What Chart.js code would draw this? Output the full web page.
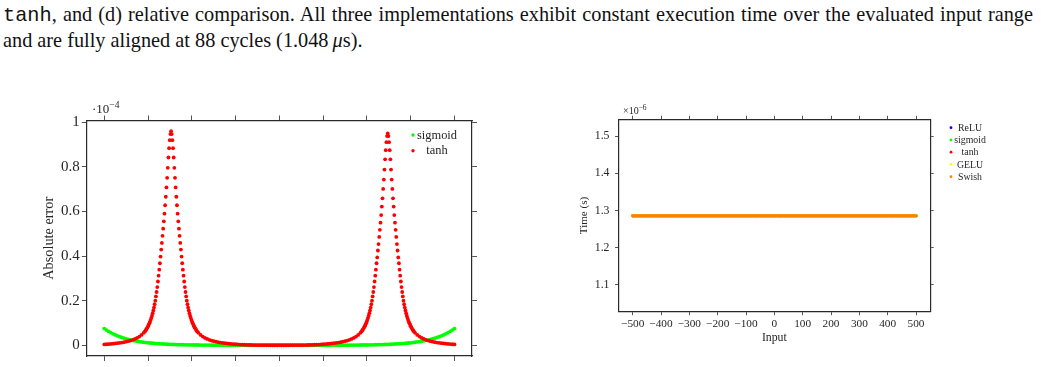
<!DOCTYPE html>
<html>
<head>
<meta charset="utf-8">
<script src="https://cdn.jsdelivr.net/npm/chart.js@4.4.1/dist/chart.umd.min.js"></script>
<style>
  html, body { margin:0; padding:0; background:#fff; }
  body { width:1041px; height:367px; overflow:hidden; position:relative; }
  #cap { position:absolute; left:3px; top:1.8px; width:1030px; font-family:"Liberation Serif","Times New Roman",serif; font-size:20.3px; line-height:24.5px; color:#111; }
  #cap .l1 { text-align:justify; text-align-last:justify; }
  #cap .l2 { text-align:left; }
  .mono { font-family:"Liberation Mono",monospace; }
  canvas { position:absolute; }
  .sci { position:absolute; font-family:"Liberation Serif",serif; color:#262626; white-space:nowrap; }
</style>
</head>
<body>
<div id="cap">
  <div class="l1"><span class="mono">tanh</span>, and (d) relative comparison. All three implementations exhibit constant execution time over the evaluated input range</div>
  <div class="l2">and are fully aligned at 88 cycles (1.048&#8201;<i>μ</i>s).</div>
</div>
<canvas id="errChart" width="520" height="267" style="left:0px;top:100px;width:520px;height:267px"></canvas>
<canvas id="timeChart" width="501" height="267" style="left:540px;top:100px;width:501px;height:267px"></canvas>
<div class="sci" style="left:92px;top:100px;font-size:13px;">·10<sup style="font-size:9.5px">−4</sup></div>
<div class="sci" style="left:623px;top:103px;font-size:10px;">×10<sup style="font-size:7.5px">−6</sup></div>
<script>
// ---------------- Left chart data (absolute error, in units of 1e-4) ----------------
const sigmoidX = [
-8,-7.9,-7.8,-7.7,-7.6,-7.5,-7.4,-7.3,-7.2,-7.1,
-7,-6.9,-6.8,-6.7,-6.6,-6.5,-6.4,-6.3,-6.2,-6.1,
-6,-5.9,-5.8,-5.7,-5.6,-5.5,-5.4,-5.3,-5.2,-5.1,
-5,-4.9,-4.8,-4.7,-4.6,-4.5,-4.4,-4.3,-4.2,-4.1,
-4,-3.9,-3.8,-3.7,-3.6,-3.5,-3.4,-3.3,-3.2,-3.1,
-3,-2.9,-2.8,-2.7,-2.6,-2.5,-2.4,-2.3,-2.2,-2.1,
-2,-1.9,-1.8,-1.7,-1.6,-1.5,-1.4,-1.3,-1.2,-1.1,
-1,-0.9,-0.8,-0.7,-0.6,-0.5,-0.4,-0.3,-0.2,-0.1,
0,
0.1,0.2,0.3,0.4,0.5,0.6,0.7,0.8,0.9,1,
1.1,1.2,1.3,1.4,1.5,1.6,1.7,1.8,1.9,2,
2.1,2.2,2.3,2.4,2.5,2.6,2.7,2.8,2.9,3,
3.1,3.2,3.3,3.4,3.5,3.6,3.7,3.8,3.9,4,
4.1,4.2,4.3,4.4,4.5,4.6,4.7,4.8,4.9,5,
5.1,5.2,5.3,5.4,5.5,5.6,5.7,5.8,5.9,6,
6.1,6.2,6.3,6.4,6.5,6.6,6.7,6.8,6.9,7,
7.1,7.2,7.3,7.4,7.5,7.6,7.7,7.8,7.9,8
];
const sigmoidErr = [
.0750,.0682,.0620,.0564,.0513,.0467,.0424,.0386,.0351,.0319,
.0290,.0264,.0240,.0218,.0199,.0181,.0164,.0149,.0136,.0124,
.0112,.0102,.0093,.0085,.0077,.0070,.0064,.0058,.0053,.0048,
.0043,.0039,.0036,.0033,.0030,.0027,.0024,.0022,.0020,.0018,
.0017,.0015,.0014,.0013,.0011,.0010,.0009,.0008,.0008,.0007,
.0006,.0006,.0005,.0005,.0004,.0004,.0004,.0003,.0003,.0003,
.0002,.0002,.0002,.0002,.0002,.0002,.0002,.0002,.0002,.0002,
.0001,.0001,.0001,.0001,.0001,.0001,.0001,.0001,.0001,.0001,
.0001,
.0001,.0001,.0001,.0001,.0001,.0001,.0001,.0001,.0001,.0001,
.0002,.0002,.0002,.0002,.0002,.0002,.0002,.0002,.0002,.0002,
.0003,.0003,.0003,.0004,.0004,.0004,.0005,.0005,.0006,.0006,
.0007,.0008,.0008,.0009,.0010,.0011,.0013,.0014,.0015,.0017,
.0018,.0020,.0022,.0024,.0027,.0030,.0033,.0036,.0039,.0043,
.0048,.0053,.0058,.0064,.0070,.0077,.0085,.0093,.0102,.0112,
.0124,.0136,.0149,.0164,.0181,.0199,.0218,.0240,.0264,.0290,
.0319,.0351,.0386,.0424,.0467,.0513,.0564,.0620,.0682,.0750
];
const tanhX = [
-8,-7.9,-7.8,-7.7,-7.6,-7.5,-7.4,-7.3,-7.2,-7.1,-7,-6.9,-6.8,-6.7,-6.6,-6.5,-6.4,-6.3,-6.2,
-6.15,-6.12,-6.09,-6.06,-6.03,-6.00,-5.97,-5.94,-5.91,-5.88,-5.85,-5.82,-5.79,-5.76,-5.73,-5.70,
-5.67,-5.64,-5.61,-5.58,-5.55,-5.52,-5.49,-5.46,-5.43,-5.40,-5.37,-5.34,-5.31,-5.28,-5.25,-5.22,
-5.19,-5.16,-5.13,-5.10,-5.07,-5.04,-5.01,-4.98,-4.95,
-4.92,-4.89,-4.86,-4.83,-4.80,-4.77,-4.74,-4.71,-4.68,-4.65,-4.62,-4.59,-4.56,-4.53,-4.50,-4.47,
-4.44,-4.41,-4.38,-4.35,-4.32,-4.29,-4.26,-4.23,-4.20,-4.17,-4.14,-4.11,-4.08,-4.05,-4.02,-3.99,
-3.96,-3.93,-3.90,-3.87,-3.84,-3.81,-3.78,-3.75,
-3.7,-3.6,-3.5,-3.4,-3.3,-3.2,-3.1,-3,-2.9,-2.8,-2.7,-2.6,-2.5,-2.4,-2.3,-2.2,-2.1,-2,-1.9,
-1.8,-1.7,-1.6,-1.5,-1.4,-1.3,-1.2,-1.1,-1,-0.9,-0.8,-0.7,-0.6,-0.5,-0.4,-0.3,-0.2,-0.1,
0,
0.1,0.2,0.3,0.4,0.5,0.6,0.7,0.8,0.9,1,1.1,1.2,1.3,1.4,1.5,1.6,1.7,1.8,
1.9,2,2.1,2.2,2.3,2.4,2.5,2.6,2.7,2.8,2.9,3,3.1,3.2,3.3,3.4,3.5,3.6,3.7,
3.75,3.78,3.81,3.84,3.87,3.90,3.93,3.96,3.99,4.02,4.05,4.08,4.11,4.14,4.17,4.20,
4.23,4.26,4.29,4.32,4.35,4.38,4.41,4.44,4.47,4.50,4.53,4.56,4.59,4.62,4.65,4.68,
4.71,4.74,4.77,4.80,4.83,4.86,4.89,4.92,4.95,
4.98,5.01,5.04,5.07,5.10,5.13,5.16,5.19,5.22,5.25,5.28,5.31,5.34,5.37,5.40,5.43,
5.46,5.49,5.52,5.55,5.58,5.61,5.64,5.67,5.70,5.73,5.76,5.79,5.82,5.85,5.88,5.91,
5.94,5.97,6.00,6.03,6.06,6.09,6.12,6.15,
6.2,6.3,6.4,6.5,6.6,6.7,6.8,6.9,7,7.1,7.2,7.3,7.4,7.5,7.6,7.7,7.8,7.9,8
];
const tanhErr = [
.0039,.0046,.0054,.0063,.0073,.0084,.0096,.0109,.0124,.0141,.0161,.0185,.0213,.0244,.0285,.0331,.0392,.0464,.0561,
.0615,.0657,.0702,.0750,.0803,.0859,.0921,.0989,.106,.114,.123,.133,.144,.156,.169,.184,
.200,.219,.239,.261,.286,.312,.339,.368,.398,.429,.459,.491,.523,.556,.590,.628,
.666,.708,.751,.796,.842,.884,.920,.947,.960,
.947,.920,.884,.842,.796,.751,.708,.666,.628,.590,.556,.523,.491,.459,.429,.398,
.368,.339,.312,.286,.261,.239,.219,.200,.184,.169,.156,.144,.133,.123,.114,.106,
.0989,.0921,.0859,.0803,.0750,.0702,.0657,.0615,
.0561,.0464,.0392,.0331,.0285,.0244,.0213,.0185,.0161,.0141,.0124,.0109,.0096,.0084,.0073,.0063,.0054,.0046,.0039,
.0033,.0028,.0024,.0020,.0017,.0014,.0012,.0010,.0008,.0007,.0006,.0005,.0004,.0004,.0003,.0003,.0003,.0002,
.0004,
.0002,.0003,.0003,.0003,.0004,.0004,.0005,.0006,.0007,.0008,.0010,.0012,.0014,.0017,.0020,.0024,.0028,.0033,
.0039,.0046,.0054,.0063,.0073,.0084,.0096,.0109,.0124,.0141,.0161,.0185,.0213,.0244,.0285,.0331,.0392,.0464,.0561,
.0615,.0657,.0702,.0750,.0803,.0859,.0921,.0989,.106,.114,.123,.133,.144,.156,.169,.184,
.200,.219,.239,.261,.286,.312,.339,.368,.394,.425,.454,.486,.518,.550,.584,.622,
.659,.701,.743,.788,.834,.875,.911,.938,.950,
.938,.911,.875,.834,.788,.743,.701,.659,.622,.584,.550,.518,.486,.454,.425,.394,
.368,.339,.312,.286,.261,.239,.219,.200,.184,.169,.156,.144,.133,.123,.114,.106,
.0989,.0921,.0859,.0803,.0750,.0702,.0657,.0615,
.0561,.0464,.0392,.0331,.0285,.0244,.0213,.0185,.0161,.0141,.0124,.0109,.0096,.0084,.0073,.0063,.0054,.0046,.0039
];
const errXTicks = [-8,-6,-4,-2,0,2,4,6,8];
const errYTicks = [0,0.2,0.4,0.6,0.8,1];
const errYTickLabels = ['0','0.2','0.4','0.6','0.8','1'];

// ---------------- Right chart data (time, in units of 1e-6 s) ----------------
const inputX = [
-500,-495,-490,-485,-480,-475,-470,-465,-460,-455,-450,-445,-440,-435,-430,-425,-420,-415,-410,-405,
-400,-395,-390,-385,-380,-375,-370,-365,-360,-355,-350,-345,-340,-335,-330,-325,-320,-315,-310,-305,
-300,-295,-290,-285,-280,-275,-270,-265,-260,-255,-250,-245,-240,-235,-230,-225,-220,-215,-210,-205,
-200,-195,-190,-185,-180,-175,-170,-165,-160,-155,-150,-145,-140,-135,-130,-125,-120,-115,-110,-105,
-100,-95,-90,-85,-80,-75,-70,-65,-60,-55,-50,-45,-40,-35,-30,-25,-20,-15,-10,-5,
0,
5,10,15,20,25,30,35,40,45,50,55,60,65,70,75,80,85,90,95,100,
105,110,115,120,125,130,135,140,145,150,155,160,165,170,175,180,185,190,195,200,
205,210,215,220,225,230,235,240,245,250,255,260,265,270,275,280,285,290,295,300,
305,310,315,320,325,330,335,340,345,350,355,360,365,370,375,380,385,390,395,400,
405,410,415,420,425,430,435,440,445,450,455,460,465,470,475,480,485,490,495,500
];
const reluTime = [
1.286,1.286,1.286,1.286,1.286,1.286,1.286,1.286,1.286,1.286,1.286,1.286,1.286,1.286,1.286,1.286,1.286,1.286,1.286,1.286,
1.286,1.286,1.286,1.286,1.286,1.286,1.286,1.286,1.286,1.286,1.286,1.286,1.286,1.286,1.286,1.286,1.286,1.286,1.286,1.286,
1.286,1.286,1.286,1.286,1.286,1.286,1.286,1.286,1.286,1.286,1.286,1.286,1.286,1.286,1.286,1.286,1.286,1.286,1.286,1.286,
1.286,1.286,1.286,1.286,1.286,1.286,1.286,1.286,1.286,1.286,1.286,1.286,1.286,1.286,1.286,1.286,1.286,1.286,1.286,1.286,
1.286,1.286,1.286,1.286,1.286,1.286,1.286,1.286,1.286,1.286,1.286,1.286,1.286,1.286,1.286,1.286,1.286,1.286,1.286,1.286,
1.286,
1.286,1.286,1.286,1.286,1.286,1.286,1.286,1.286,1.286,1.286,1.286,1.286,1.286,1.286,1.286,1.286,1.286,1.286,1.286,1.286,
1.286,1.286,1.286,1.286,1.286,1.286,1.286,1.286,1.286,1.286,1.286,1.286,1.286,1.286,1.286,1.286,1.286,1.286,1.286,1.286,
1.286,1.286,1.286,1.286,1.286,1.286,1.286,1.286,1.286,1.286,1.286,1.286,1.286,1.286,1.286,1.286,1.286,1.286,1.286,1.286,
1.286,1.286,1.286,1.286,1.286,1.286,1.286,1.286,1.286,1.286,1.286,1.286,1.286,1.286,1.286,1.286,1.286,1.286,1.286,1.286,
1.286,1.286,1.286,1.286,1.286,1.286,1.286,1.286,1.286,1.286,1.286,1.286,1.286,1.286,1.286,1.286,1.286,1.286,1.286,1.286
];
const sigmoidTime = [
1.286,1.286,1.286,1.286,1.286,1.286,1.286,1.286,1.286,1.286,1.286,1.286,1.286,1.286,1.286,1.286,1.286,1.286,1.286,1.286,
1.286,1.286,1.286,1.286,1.286,1.286,1.286,1.286,1.286,1.286,1.286,1.286,1.286,1.286,1.286,1.286,1.286,1.286,1.286,1.286,
1.286,1.286,1.286,1.286,1.286,1.286,1.286,1.286,1.286,1.286,1.286,1.286,1.286,1.286,1.286,1.286,1.286,1.286,1.286,1.286,
1.286,1.286,1.286,1.286,1.286,1.286,1.286,1.286,1.286,1.286,1.286,1.286,1.286,1.286,1.286,1.286,1.286,1.286,1.286,1.286,
1.286,1.286,1.286,1.286,1.286,1.286,1.286,1.286,1.286,1.286,1.286,1.286,1.286,1.286,1.286,1.286,1.286,1.286,1.286,1.286,
1.286,
1.286,1.286,1.286,1.286,1.286,1.286,1.286,1.286,1.286,1.286,1.286,1.286,1.286,1.286,1.286,1.286,1.286,1.286,1.286,1.286,
1.286,1.286,1.286,1.286,1.286,1.286,1.286,1.286,1.286,1.286,1.286,1.286,1.286,1.286,1.286,1.286,1.286,1.286,1.286,1.286,
1.286,1.286,1.286,1.286,1.286,1.286,1.286,1.286,1.286,1.286,1.286,1.286,1.286,1.286,1.286,1.286,1.286,1.286,1.286,1.286,
1.286,1.286,1.286,1.286,1.286,1.286,1.286,1.286,1.286,1.286,1.286,1.286,1.286,1.286,1.286,1.286,1.286,1.286,1.286,1.286,
1.286,1.286,1.286,1.286,1.286,1.286,1.286,1.286,1.286,1.286,1.286,1.286,1.286,1.286,1.286,1.286,1.286,1.286,1.286,1.286
];
const tanhTime = [
1.286,1.286,1.286,1.286,1.286,1.286,1.286,1.286,1.286,1.286,1.286,1.286,1.286,1.286,1.286,1.286,1.286,1.286,1.286,1.286,
1.286,1.286,1.286,1.286,1.286,1.286,1.286,1.286,1.286,1.286,1.286,1.286,1.286,1.286,1.286,1.286,1.286,1.286,1.286,1.286,
1.286,1.286,1.286,1.286,1.286,1.286,1.286,1.286,1.286,1.286,1.286,1.286,1.286,1.286,1.286,1.286,1.286,1.286,1.286,1.286,
1.286,1.286,1.286,1.286,1.286,1.286,1.286,1.286,1.286,1.286,1.286,1.286,1.286,1.286,1.286,1.286,1.286,1.286,1.286,1.286,
1.286,1.286,1.286,1.286,1.286,1.286,1.286,1.286,1.286,1.286,1.286,1.286,1.286,1.286,1.286,1.286,1.286,1.286,1.286,1.286,
1.286,
1.286,1.286,1.286,1.286,1.286,1.286,1.286,1.286,1.286,1.286,1.286,1.286,1.286,1.286,1.286,1.286,1.286,1.286,1.286,1.286,
1.286,1.286,1.286,1.286,1.286,1.286,1.286,1.286,1.286,1.286,1.286,1.286,1.286,1.286,1.286,1.286,1.286,1.286,1.286,1.286,
1.286,1.286,1.286,1.286,1.286,1.286,1.286,1.286,1.286,1.286,1.286,1.286,1.286,1.286,1.286,1.286,1.286,1.286,1.286,1.286,
1.286,1.286,1.286,1.286,1.286,1.286,1.286,1.286,1.286,1.286,1.286,1.286,1.286,1.286,1.286,1.286,1.286,1.286,1.286,1.286,
1.286,1.286,1.286,1.286,1.286,1.286,1.286,1.286,1.286,1.286,1.286,1.286,1.286,1.286,1.286,1.286,1.286,1.286,1.286,1.286
];
const geluTime = [
1.286,1.286,1.286,1.286,1.286,1.286,1.286,1.286,1.286,1.286,1.286,1.286,1.286,1.286,1.286,1.286,1.286,1.286,1.286,1.286,
1.286,1.286,1.286,1.286,1.286,1.286,1.286,1.286,1.286,1.286,1.286,1.286,1.286,1.286,1.286,1.286,1.286,1.286,1.286,1.286,
1.286,1.286,1.286,1.286,1.286,1.286,1.286,1.286,1.286,1.286,1.286,1.286,1.286,1.286,1.286,1.286,1.286,1.286,1.286,1.286,
1.286,1.286,1.286,1.286,1.286,1.286,1.286,1.286,1.286,1.286,1.286,1.286,1.286,1.286,1.286,1.286,1.286,1.286,1.286,1.286,
1.286,1.286,1.286,1.286,1.286,1.286,1.286,1.286,1.286,1.286,1.286,1.286,1.286,1.286,1.286,1.286,1.286,1.286,1.286,1.286,
1.286,
1.286,1.286,1.286,1.286,1.286,1.286,1.286,1.286,1.286,1.286,1.286,1.286,1.286,1.286,1.286,1.286,1.286,1.286,1.286,1.286,
1.286,1.286,1.286,1.286,1.286,1.286,1.286,1.286,1.286,1.286,1.286,1.286,1.286,1.286,1.286,1.286,1.286,1.286,1.286,1.286,
1.286,1.286,1.286,1.286,1.286,1.286,1.286,1.286,1.286,1.286,1.286,1.286,1.286,1.286,1.286,1.286,1.286,1.286,1.286,1.286,
1.286,1.286,1.286,1.286,1.286,1.286,1.286,1.286,1.286,1.286,1.286,1.286,1.286,1.286,1.286,1.286,1.286,1.286,1.286,1.286,
1.286,1.286,1.286,1.286,1.286,1.286,1.286,1.286,1.286,1.286,1.286,1.286,1.286,1.286,1.286,1.286,1.286,1.286,1.286,1.286
];
const swishTime = [
1.286,1.286,1.286,1.286,1.286,1.286,1.286,1.286,1.286,1.286,1.286,1.286,1.286,1.286,1.286,1.286,1.286,1.286,1.286,1.286,
1.286,1.286,1.286,1.286,1.286,1.286,1.286,1.286,1.286,1.286,1.286,1.286,1.286,1.286,1.286,1.286,1.286,1.286,1.286,1.286,
1.286,1.286,1.286,1.286,1.286,1.286,1.286,1.286,1.286,1.286,1.286,1.286,1.286,1.286,1.286,1.286,1.286,1.286,1.286,1.286,
1.286,1.286,1.286,1.286,1.286,1.286,1.286,1.286,1.286,1.286,1.286,1.286,1.286,1.286,1.286,1.286,1.286,1.286,1.286,1.286,
1.286,1.286,1.286,1.286,1.286,1.286,1.286,1.286,1.286,1.286,1.286,1.286,1.286,1.286,1.286,1.286,1.286,1.286,1.286,1.286,
1.286,
1.286,1.286,1.286,1.286,1.286,1.286,1.286,1.286,1.286,1.286,1.286,1.286,1.286,1.286,1.286,1.286,1.286,1.286,1.286,1.286,
1.286,1.286,1.286,1.286,1.286,1.286,1.286,1.286,1.286,1.286,1.286,1.286,1.286,1.286,1.286,1.286,1.286,1.286,1.286,1.286,
1.286,1.286,1.286,1.286,1.286,1.286,1.286,1.286,1.286,1.286,1.286,1.286,1.286,1.286,1.286,1.286,1.286,1.286,1.286,1.286,
1.286,1.286,1.286,1.286,1.286,1.286,1.286,1.286,1.286,1.286,1.286,1.286,1.286,1.286,1.286,1.286,1.286,1.286,1.286,1.286,
1.286,1.286,1.286,1.286,1.286,1.286,1.286,1.286,1.286,1.286,1.286,1.286,1.286,1.286,1.286,1.286,1.286,1.286,1.286,1.286
];
const timeXTicks = [-500,-400,-300,-200,-100,0,100,200,300,400,500];
const timeXTickLabels = ['\u2212500','\u2212400','\u2212300','\u2212200','\u2212100','0','100','200','300','400','500'];
const timeYTicks = [1.1,1.2,1.3,1.4,1.5];
const timeYTickLabels = ['1.1','1.2','1.3','1.4','1.5'];

// ---------------- helpers ----------------
const AX = '#2a2a2a';
const TXT = '#262626';
const toPts = (xs, ys) => xs.map((x, i) => ({x: x, y: ys[i]}));
const setTicks = (vals) => (s) => { s.ticks = vals.map(v => ({value: v})); };

const pgfLegend = {
  id: 'pgfLegend',
  afterDraw(chart, args, o) {
    const ctx = chart.ctx;
    ctx.save();
    ctx.font = o.font;
    ctx.textAlign = 'center';
    ctx.textBaseline = 'middle';
    chart.data.datasets.forEach((ds, i) => {
      const y = o.y0 + i * o.dy;
      ctx.fillStyle = ds.backgroundColor;
      ctx.beginPath();
      ctx.arc(o.markX, y, o.r, 0, Math.PI * 2);
      ctx.fill();
      ctx.fillStyle = TXT;
      ctx.fillText(ds.label, o.textX, y + 0.5);
    });
    ctx.restore();
  }
};

function frameAxis(pos, min, max, ticks, size, tickLen, extra) {
  const a = {
    type: 'linear', position: pos, min: min, max: max,
    afterBuildTicks: setTicks(ticks),
    ticks: { display: false },
    grid: { display: true, drawOnChartArea: false, drawTicks: true, tickLength: tickLen, color: AX, lineWidth: 0.8 },
    border: { display: true, color: AX, width: 1.2 },
    afterFit: (s) => { if (pos === 'left' || pos === 'right') s.width = size; else s.height = size; }
  };
  return Object.assign(a, extra || {});
}

// ---------------- Left chart ----------------
new Chart(document.getElementById('errChart'), {
  type: 'scatter',
  data: {
    datasets: [
      { label: 'sigmoid', data: toPts(sigmoidX, sigmoidErr), backgroundColor: '#00ff00', pointRadius: 1.9, pointBorderWidth: 0, order: 1 },
      { label: 'tanh', data: toPts(tanhX, tanhErr), backgroundColor: '#ff0000', pointRadius: 1.9, pointBorderWidth: 0, order: 0 }
    ]
  },
  options: {
    responsive: false, animation: false, devicePixelRatio: 1,
    layout: { padding: 0, autoPadding: false },
    plugins: { legend: { display: false }, tooltip: { enabled: false },
      pgfLegend: { font: "12.4px 'Liberation Serif'", markX: 413, textX: 437, y0: 35, dy: 15.7, r: 1.7 } },
    scales: {
      x: frameAxis('bottom', -8.8, 8.8, errXTicks, 10.2, 5),
      x2: frameAxis('top', -8.8, 8.8, errXTicks, 20.5, 5),
      y: frameAxis('left', -0.048, 1.008, errYTicks, 86.8, 5, {
        ticks: { display: true, padding: 2, color: TXT, font: { family: 'Liberation Serif', size: 15 },
                 callback: (v, i) => errYTickLabels[i] },
        title: { display: true, text: 'Absolute error', color: TXT, font: { family: 'Liberation Serif', size: 14.3 }, padding: { top: 40.5, bottom: 0 } }
      }),
      y2: frameAxis('right', -0.048, 1.008, errYTicks, 48, 5)
    }
  },
  plugins: [pgfLegend]
});

// ---------------- Right chart ----------------
new Chart(document.getElementById('timeChart'), {
  type: 'scatter',
  data: {
    datasets: [
      { label: 'ReLU', data: toPts(inputX, reluTime), backgroundColor: '#0000ff', pointRadius: 1.5, pointBorderWidth: 0, order: 5 },
      { label: 'sigmoid', data: toPts(inputX, sigmoidTime), backgroundColor: '#00ff00', pointRadius: 1.5, pointBorderWidth: 0, order: 4 },
      { label: 'tanh', data: toPts(inputX, tanhTime), backgroundColor: '#ff0000', pointRadius: 1.5, pointBorderWidth: 0, order: 3 },
      { label: 'GELU', data: toPts(inputX, geluTime), backgroundColor: '#ffff00', pointRadius: 1.5, pointBorderWidth: 0, order: 2 },
      { label: 'Swish', data: toPts(inputX, swishTime), backgroundColor: '#ff8000', pointRadius: 1.5, pointBorderWidth: 0, order: 1 }
    ]
  },
  options: {
    responsive: false, animation: false, devicePixelRatio: 1,
    layout: { padding: 0, autoPadding: false },
    plugins: { legend: { display: false }, tooltip: { enabled: false },
      pgfLegend: { font: "9.8px 'Liberation Serif'", markX: 411, textX: 430, y0: 27.7, dy: 12.25, r: 1.4 } },
    scales: {
      x: frameAxis('bottom', -550, 550, timeXTicks, 55.3, 3.5, {
        ticks: { display: true, padding: 2, color: TXT, maxRotation: 0, autoSkip: false, font: { family: 'Liberation Serif', size: 11.3 },
                 callback: (v, i) => timeXTickLabels[i] },
        title: { display: true, text: 'Input', color: TXT, font: { family: 'Liberation Serif', size: 11.8 }, padding: { top: 0, bottom: 21.9 } }
      }),
      x2: frameAxis('top', -550, 550, timeXTicks, 19.3, 3.5),
      y: frameAxis('left', 1.0277, 1.545, timeYTicks, 78.5, 3.5, {
        ticks: { display: true, padding: 5.5, color: TXT, font: { family: 'Liberation Serif', size: 11.8 },
                 callback: (v, i) => timeYTickLabels[i] },
        title: { display: true, text: 'Time (s)', color: TXT, font: { family: 'Liberation Serif', size: 11.1 }, padding: { top: 37.6, bottom: 0 } }
      }),
      y2: frameAxis('right', 1.0277, 1.545, timeYTicks, 110.8, 3.5)
    }
  },
  plugins: [pgfLegend]
});
</script>
</body>
</html>
